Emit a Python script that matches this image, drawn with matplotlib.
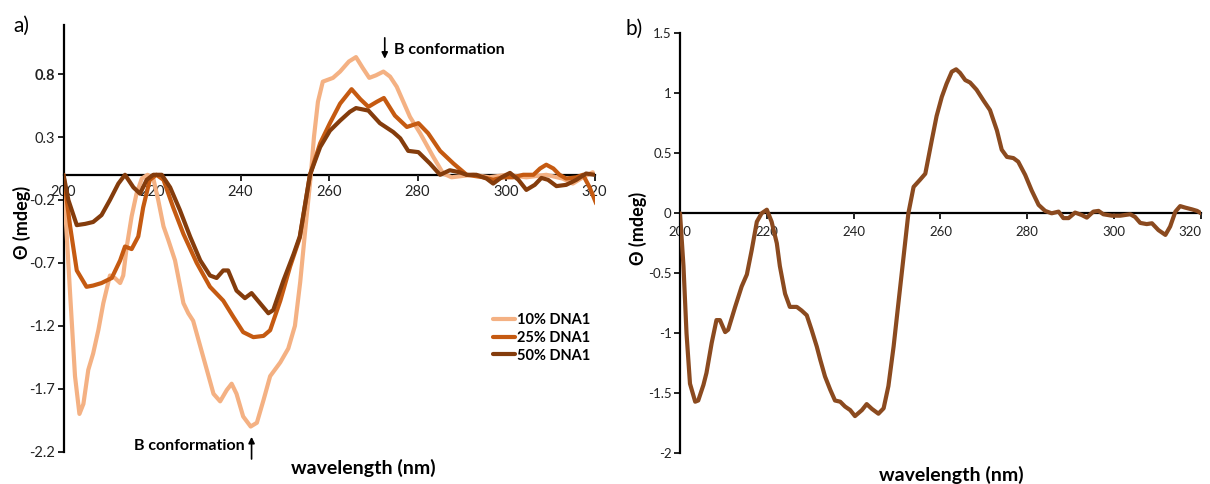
"""
CD spectra of DNA1 mixtures (panel a) and a single spectrum (panel b).
"""
import matplotlib
matplotlib.use('Agg')
import matplotlib.pyplot as plt

plt.rcParams['font.family'] = ['Lato', 'DejaVu Sans']

# ---- panel a: three DNA1 fractions ----
wl_10 = [200, 200.6, 201.5, 202.6, 203.6, 204.5, 205.6, 206.7, 207.9, 209,
         210.5, 211.6, 212.8, 213.5, 214.3, 215.4, 216.5, 217.7, 219, 220.3,
         221.4, 222.6, 223.7, 225.2, 227.1, 228.2, 229.3, 231.6, 233.9, 235.4,
         236.9, 238, 239.1, 240.6, 242.3, 243.7, 245.2, 246.7, 249, 250.8,
         252.3, 253.5, 254.6, 255.9, 256.6, 257.5, 258.6, 260.9, 262.5, 264.5,
         266.1, 267.6, 269.1, 270.6, 272.3, 273.8, 275.3, 276.8, 278.3, 280.6,
         283.6, 285.8, 287.7, 290, 292.6, 296.3, 300.1, 304.6, 309.1, 312.8,
         315.1, 317.4, 319.6]
cd_10 = [-0.05, -0.4, -0.95, -1.6, -1.9, -1.82, -1.55, -1.42, -1.23, -1.02,
         -0.8, -0.82, -0.86, -0.8, -0.57, -0.33, -0.15, -0.03, 0.0, -0.03,
         -0.2, -0.41, -0.52, -0.68, -1.02, -1.1, -1.16, -1.45, -1.74, -1.80,
         -1.71, -1.66, -1.74, -1.92, -2.0, -1.97, -1.79, -1.6, -1.49, -1.38,
         -1.2, -0.85, -0.45, 0.0, 0.3, 0.58, 0.74, 0.77, 0.82, 0.9,
         0.935, 0.85, 0.77, 0.79, 0.82, 0.78, 0.70, 0.58, 0.46, 0.33,
         0.14, 0.01, -0.02, -0.01, 0.0, -0.02, 0.0, -0.02, 0.0, -0.03,
         -0.07, -0.02, 0.02]

wl_25 = [200, 201.5, 203, 205.2, 206.7, 208.6, 210.9, 212.8, 213.9, 215.4,
         216.9, 218, 219.5, 221, 222.6, 224.8, 227.1, 230.1, 233.1, 236.1,
         238.4, 240.6, 242.9, 245.2, 246.7, 249, 251.2, 253.4, 255.7, 258,
         260.2, 262.5, 265.1, 267.1, 268.9, 270.8, 272.4, 274.9, 277.6, 280.2,
         282.4, 285.1, 288.1, 291.1, 294.9, 297.1, 299.4, 301.6, 303.9, 306.2,
         307.7, 309.1, 310.7, 312.1, 313.6, 315.9, 317.4, 318.9, 320.4]
cd_25 = [0.0, -0.41, -0.76, -0.89, -0.88, -0.86, -0.82, -0.68, -0.57, -0.59,
         -0.49, -0.26, -0.04, 0.0, -0.04, -0.26, -0.47, -0.70, -0.89, -1.0,
         -1.13, -1.25, -1.29, -1.28, -1.235, -1.0, -0.73, -0.5, 0.0, 0.25,
         0.41, 0.565, 0.68, 0.6, 0.54, 0.58, 0.61, 0.47, 0.38, 0.41,
         0.33, 0.19, 0.09, 0.0, -0.02, -0.04, -0.02, -0.02, 0.0, 0.0,
         0.05, 0.08, 0.05, 0.0, -0.03, -0.02, 0.0, -0.1, -0.23]

wl_50 = [200, 201.1, 203, 204.9, 206.7, 208.6, 210.5, 212.4, 213.9, 215.8,
         217.3, 218.8, 220.3, 222.2, 224.1, 226.3, 228.6, 230.9, 233.1, 234.6,
         236.1, 237.2, 239.1, 241, 242.5, 244.4, 246.3, 247.4, 249.7, 252,
         253.4, 255.7, 258, 260.2, 262.5, 264.7, 266.1, 268.9, 271.5, 274.5,
         276.1, 277.9, 280.2, 282.8, 285.1, 287.3, 289.5, 291.1, 293.3, 295.6,
         297.1, 299, 300.9, 302.8, 304.6, 306.5, 308, 309.5, 311.4, 313.6,
         315.9, 318.1, 320]
cd_50 = [0.0, -0.2, -0.4, -0.39, -0.375, -0.32, -0.2, -0.07, 0.0, -0.1,
         -0.15, -0.04, 0.0, 0.0, -0.1, -0.28, -0.49, -0.68, -0.8, -0.82,
         -0.76, -0.76, -0.92, -0.98, -0.94, -1.02, -1.1, -1.075, -0.84, -0.63,
         -0.49, 0.0, 0.22, 0.35, 0.43, 0.50, 0.53, 0.51, 0.41, 0.34,
         0.29, 0.19, 0.18, 0.09, 0.0, 0.036, 0.02, 0.0, 0.0, -0.03,
         -0.07, -0.02, 0.015, -0.04, -0.12, -0.08, -0.025, -0.04, -0.09, -0.08,
         -0.04, 0.01, 0.0]

labels_a = ['10% DNA1', '25% DNA1', '50% DNA1']
yticks_a = [0.8, 0.3, -0.2, -0.7, -1.2, -1.7, -2.2]
yticklabels_a = ['0.8', '0.3', '-0.2', '-0.7', '-1.2', '-1.7', '-2.2']

# ---- panel b: single spectrum ----
wl_b = [200, 200.8, 201.5, 202.3, 203.5, 204.2, 205.4, 206.1, 207.3, 208.4,
        209.2, 210.4, 211.1, 212.7, 214.2, 215.4, 216.5, 217.7, 218.8, 220,
        221.1, 222.3, 223, 224.2, 225.3, 226.9, 228, 229.2, 230.3, 231.5,
        232.3, 233.4, 234.6, 235.7, 236.9, 238, 239.2, 240.3, 241.9, 243,
        244.2, 245.7, 246.9, 248, 249.2, 250.3, 251.5, 252.6, 253.8, 255.3,
        256.5, 258, 259.1, 260.3, 261.4, 262.6, 263.6, 264.5, 265.7, 266.8,
        268.3, 269.9, 271.4, 273, 274.1, 275.3, 276.8, 277.9, 279.5, 281,
        282.6, 284.1, 285.6, 287.2, 288.3, 289.5, 291, 292.5, 293.7, 295.2,
        296.4, 297.5, 299.5, 301.4, 303.7, 304.8, 306, 307.5, 308.7, 310.2,
        311.8, 312.9, 314.1, 315.2, 316.4, 317.9, 319.1, 320]
cd_b = [0.0, -0.44, -1.0, -1.42, -1.57, -1.56, -1.43, -1.33, -1.08, -0.89,
        -0.89, -0.99, -0.97, -0.78, -0.61, -0.51, -0.31, -0.07, 0.0, 0.03,
        -0.07, -0.25, -0.44, -0.67, -0.78, -0.78, -0.81, -0.85, -0.97, -1.11,
        -1.22, -1.36, -1.47, -1.56, -1.57, -1.61, -1.64, -1.69, -1.64, -1.59,
        -1.63, -1.67, -1.625, -1.44, -1.11, -0.75, -0.36, 0.0, 0.22, 0.28,
        0.33, 0.61, 0.81, 0.97, 1.08, 1.18, 1.2, 1.17, 1.11, 1.09,
        1.03, 0.94, 0.86, 0.69, 0.53, 0.47, 0.46, 0.43, 0.32, 0.19,
        0.07, 0.02, 0.0, 0.014, -0.04, -0.04, 0.006, -0.014, -0.036, 0.014,
        0.02, -0.008, -0.02, -0.02, -0.008, -0.03, -0.08, -0.09, -0.083, -0.14,
        -0.18, -0.11, 0.014, 0.06, 0.047, 0.033, 0.02, 0.0]

yticks_b = [-2, -1.5, -1, -0.5, 0, 0.5, 1, 1.5]
yticklabels_b = ['-2', '-1.5', '-1', '-0.5', '0', '0.5', '1', '1.5']
xticks = [200, 220, 240, 260, 280, 300, 320]

colors_a = ['#F4B183', '#C55A11', '#843C0C']
color_b = '#8B4A1F'
LW = 3.0


def _style_axis(ax, yticks, yticklabels, ylim, fs, xpad):
    ax.set_xlim(200, 320)
    ax.set_ylim(*ylim)
    for side in ('top', 'right'):
        ax.spines[side].set_visible(False)
    ax.spines['bottom'].set_position(('data', 0))
    ax.spines['bottom'].set_linewidth(1.6)
    ax.spines['left'].set_linewidth(1.6)
    ax.spines['bottom'].set_zorder(1)
    ax.set_xticks(xticks)
    ax.set_xticklabels([str(t) for t in xticks])
    ax.set_yticks(yticks)
    ax.set_yticklabels(yticklabels)
    ax.tick_params(axis='both', direction='out', length=4, width=1.4,
                   labelsize=fs, pad=2, colors='#222222')
    ax.tick_params(axis='x', pad=xpad)
    ax.set_facecolor('none')


fig = plt.figure(figsize=(12.1, 4.84), dpi=100)

# panel a
ax_a = fig.add_axes([63.5 / 1210, 1 - 451.7 / 484, 531 / 1210, 426.7 / 484])
for wl, cd, col, lab in zip([wl_10, wl_25, wl_50], [cd_10, cd_25, cd_50],
                            colors_a, labels_a):
    ax_a.plot(wl, cd, color=col, lw=LW, label=lab, solid_joinstyle='round',
              solid_capstyle='round', zorder=3)
_style_axis(ax_a, yticks_a, yticklabels_a, (-2.2, 1.19), 10.5, 3.5)
ax_a.get_yticklabels()[0].set_fontweight('bold')

leg = ax_a.legend(loc='upper left', bbox_to_anchor=(486 / 1210, 1 - 306 / 484),
                  bbox_transform=fig.transFigure, frameon=False,
                  handlelength=1.5, handletextpad=0.15, labelspacing=0.25,
                  borderpad=0, prop={'weight': 'bold', 'size': 10.5})

ax_a.annotate('', xy=(272.6, 0.90), xytext=(272.6, 1.11),
              arrowprops=dict(arrowstyle='-|>', color='black', lw=1.2,
                              mutation_scale=9), annotation_clip=False)
ax_a.text(274.6, 0.99, 'B conformation', fontsize=11.5, fontweight='bold',
          ha='left', va='center')
ax_a.annotate('', xy=(242.5, -2.06), xytext=(242.5, -2.28),
              arrowprops=dict(arrowstyle='-|>', color='black', lw=1.2,
                              mutation_scale=9), annotation_clip=False)
ax_a.text(240.9, -2.155, 'B conformation', fontsize=11.5, fontweight='bold',
          ha='right', va='center')

# panel b
ax_b = fig.add_axes([680 / 1210, 1 - 453.3 / 484, 521 / 1210, 420 / 484])
ax_b.plot(wl_b, cd_b, color=color_b, lw=LW, solid_joinstyle='round',
          solid_capstyle='round', zorder=3)
_style_axis(ax_b, yticks_b, yticklabels_b, (-2, 1.5), 9.5, 5)
ax_b.get_xticklabels()[-1].set_horizontalalignment('right')
ax_b.get_xticklabels()[-1].set_x(319.0)

# labels
fig.text(22 / 1210, 1 - 222 / 484, 'Θ (mdeg)', rotation=90, fontsize=13,
         fontweight='bold', ha='center', va='center')
fig.text(638 / 1210, 1 - 228 / 484, 'Θ (mdeg)', rotation=90, fontsize=13,
         fontweight='bold', ha='center', va='center')
fig.text(363 / 1210, 1 - 468 / 484, 'wavelength (nm)', fontsize=14,
         fontweight='bold', ha='center', va='center')
fig.text(951 / 1210, 1 - 475 / 484, 'wavelength (nm)', fontsize=14,
         fontweight='bold', ha='center', va='center')
fig.text(21 / 1210, 1 - 26 / 484, 'a)', fontsize=15, ha='center',
         va='center')
fig.text(634 / 1210, 1 - 29 / 484, 'b)', fontsize=15, ha='center',
         va='center')

fig.savefig('out.png', dpi=100, facecolor='white')
